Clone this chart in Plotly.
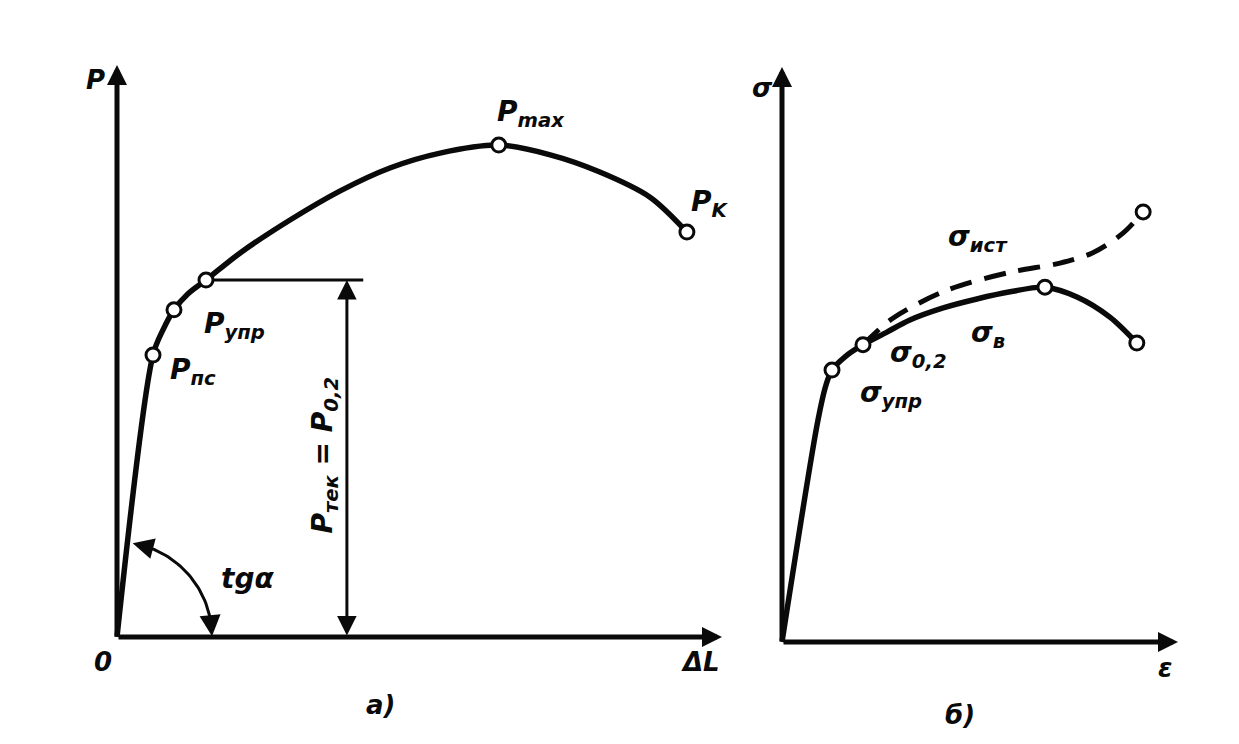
import numpy as np
import plotly.graph_objects as go

# page is drawn with an 8px body margin: keep figure inside the viewport
OFF = 8
W, H = 1239 - 2 * OFF, 744 - 2 * OFF

# ---------------- Panel a) : load P vs elongation ΔL ----------------
dl_curve = [0, 5.95, 7.60, 9.42, 11.74, 14.71, 20.3, 28.6, 36.9, 45.1, 53.4, 63.1, 71.6, 79.8, 88.1, 94.2]
p_curve = [0, 49.3, 53.7, 57.2, 60.0, 62.4, 67.1, 72.9, 78.0, 82.0, 84.6, 86.0, 84.3, 81.3, 76.9, 70.8]
pt_names_a = ["P_pc", "P_upr", "P_02", "P_max", "P_k"]
pt_dl = [5.95, 9.42, 14.71, 63.1, 94.2]
pt_p = [49.3, 57.2, 62.4, 86.0, 70.8]
p_yield = 62.4          # P_тек = P_0,2
dl_dim = 38.0           # position of dimension arrow
dl_hline_end = 40.7

# ---------------- Panel б) : stress σ vs strain ε ----------------
eps_eng = [0, 9.09, 11.11, 12.63, 15.91, 20.45, 26.5, 32.3, 40.7, 49.2, 57.6, 66.4, 74.5, 82.8, 89.6]
sig_eng = [0, 38.6, 44.7, 47.3, 49.6, 51.7, 53.9, 56.0, 58.1, 59.65, 60.9, 61.7, 60.0, 56.5, 52.0]
eps_true = [20.45, 28.0, 41.7, 57.6, 70.2, 78.5, 86.1, 91.2]
sig_true = [51.7, 56.3, 61.2, 64.3, 65.9, 67.7, 71.1, 74.8]
pt_eps = [12.63, 20.45, 66.4, 89.6, 91.2]
pt_sig = [47.3, 51.7, 61.7, 52.0, 74.8]

# ---------------- geometry of the drawing (page pixels) ----------------
A_ORG, A_SX, A_SY = (117, 637), 6.05, 5.72
B_ORG, B_SX, B_SY = (782, 642), 3.96, 5.75
A_XR, A_YR = [-10, 103.5], [-16, 108]
B_XR, B_YR = [-9.5, 106], [-16, 108]


def xdom(org, sx, r):
    return [(org[0] - OFF + r[0] * sx) / W, (org[0] - OFF + r[1] * sx) / W]


def ydom(org, sy, r):
    return [(H - (org[1] - OFF - r[0] * sy)) / H, (H - (org[1] - OFF - r[1] * sy)) / H]


FONT = "DejaVu Sans"
INK = "#0a0a0a"

fig = go.Figure()

SPL = dict(shape="spline", smoothing=0.9)
# panel a curve
fig.add_trace(go.Scatter(x=dl_curve, y=p_curve, mode="lines", line=dict(color=INK, width=5.5, **SPL),
                         xaxis="x", yaxis="y", hoverinfo="skip"))
# horizontal yield line
fig.add_trace(go.Scatter(x=[pt_dl[2], dl_hline_end], y=[p_yield, p_yield], mode="lines",
                         line=dict(color=INK, width=3), xaxis="x", yaxis="y", hoverinfo="skip"))
# tg α arc (decoration around origin)
r_px = 95
th = np.radians(np.linspace(4, 76, 40))
fig.add_trace(go.Scatter(x=r_px * np.cos(th) / A_SX, y=r_px * np.sin(th) / A_SY, mode="lines",
                         line=dict(color=INK, width=3), xaxis="x", yaxis="y", hoverinfo="skip"))
fig.add_trace(go.Scatter(x=pt_dl, y=pt_p, mode="markers",
                         marker=dict(size=14, color="white", line=dict(color=INK, width=3)),
                         xaxis="x", yaxis="y", hoverinfo="skip"))

# panel б curves
fig.add_trace(go.Scatter(x=eps_true, y=sig_true, mode="lines",
                         line=dict(color=INK, width=5, dash="22px,13px", **SPL),
                         xaxis="x2", yaxis="y2", hoverinfo="skip"))
fig.add_trace(go.Scatter(x=eps_eng, y=sig_eng, mode="lines", line=dict(color=INK, width=5.5, **SPL),
                         xaxis="x2", yaxis="y2", hoverinfo="skip"))
fig.add_trace(go.Scatter(x=pt_eps, y=pt_sig, mode="markers",
                         marker=dict(size=14, color="white", line=dict(color=INK, width=3)),
                         xaxis="x2", yaxis="y2", hoverinfo="skip"))

ann = []


def arrow(x, y, ax, ay, xr, yr, width=5, size=1.0, both=False):
    d = dict(x=x, y=y, ax=ax, ay=ay, xref=xr, yref=yr, axref=xr, ayref=yr, text="",
             showarrow=True, arrowhead=2, arrowsize=size, arrowwidth=width, arrowcolor=INK, standoff=0)
    if both:
        d.update(arrowside="end+start", startarrowhead=2, startarrowsize=size, startstandoff=0)
    ann.append(d)


def label(x, y, text, xr, yr, size=28, angle=0):
    ann.append(dict(x=x, y=y, xref=xr, yref=yr, text="<b><i>" + text + "</i></b>", showarrow=False,
                    textangle=angle, font=dict(family=FONT, size=size, color=INK)))


# axes panel a
arrow(100, 0, 0, 0, "x", "y", width=5, size=0.8)
arrow(0, 100, 0, 0, "x", "y", width=5, size=0.8)
# dimension arrow
arrow(dl_dim, p_yield, dl_dim, 0, "x", "y", width=3, size=1.3, both=True)
# tg α arrow heads
a1 = np.radians(80.5); a0 = np.radians(70)
arrow(r_px * np.cos(a1) / A_SX, r_px * np.sin(a1) / A_SY, r_px * np.cos(a0) / A_SX, r_px * np.sin(a0) / A_SY,
      "x", "y", width=3, size=1.4)
b1 = np.radians(0.5); b0 = np.radians(10)
arrow(r_px * np.cos(b1) / A_SX, r_px * np.sin(b1) / A_SY, r_px * np.cos(b0) / A_SX, r_px * np.sin(b0) / A_SY,
      "x", "y", width=3, size=1.4)

# axes panel б
arrow(100, 0, 0, 0, "x2", "y2", width=5, size=0.8)
arrow(0, 100, 0, 0, "x2", "y2", width=5, size=0.8)

# labels panel a
label(-3.6, 97.4, "P", "x", "y", size=26)
label(-2.3, -4.4, "0", "x", "y", size=26)
label(96.4, -4.4, "ΔL", "x", "y", size=26)
label(43.5, -11.9, "a)", "x", "y", size=26)
label(21.5, 10.3, "tgα", "x", "y")
label(68.5, 91.6, "P<sub>max</sub>", "x", "y")
label(98.0, 75.8, "P<sub>K</sub>", "x", "y")
label(19.5, 54.4, "P<sub>упр</sub>", "x", "y")
label(12.6, 46.4, "P<sub>пс</sub>", "x", "y")
label(34.3, 31.8, "P<sub>тек</sub> = P<sub>0,2</sub>", "x", "y", angle=-90)

# labels panel б
label(-4.8, 96.3, "σ", "x2", "y2", size=26)
label(96.7, -4.5, "ε", "x2", "y2", size=26)
label(45.0, -12.7, "б)", "x2", "y2", size=26)
label(49.5, 70.2, "σ<sub>ист</sub>", "x2", "y2")
label(52.0, 53.4, "σ<sub>в</sub>", "x2", "y2")
label(34.5, 50.0, "σ<sub>0,2</sub>", "x2", "y2")
label(27.5, 43.0, "σ<sub>упр</sub>", "x2", "y2")

hid = dict(visible=False, showgrid=False, zeroline=False, fixedrange=True)
fig.update_layout(
    width=W, height=H, margin=dict(l=0, r=0, t=0, b=0),
    paper_bgcolor="white", plot_bgcolor="white", showlegend=False,
    xaxis=dict(hid, domain=xdom(A_ORG, A_SX, A_XR), range=A_XR),
    yaxis=dict(hid, domain=ydom(A_ORG, A_SY, A_YR), range=A_YR),
    xaxis2=dict(hid, domain=xdom(B_ORG, B_SX, B_XR), range=B_XR, anchor="y2"),
    yaxis2=dict(hid, domain=ydom(B_ORG, B_SY, B_YR), range=B_YR, anchor="x2"),
    annotations=ann,
)
fig.write_html("out.html")
